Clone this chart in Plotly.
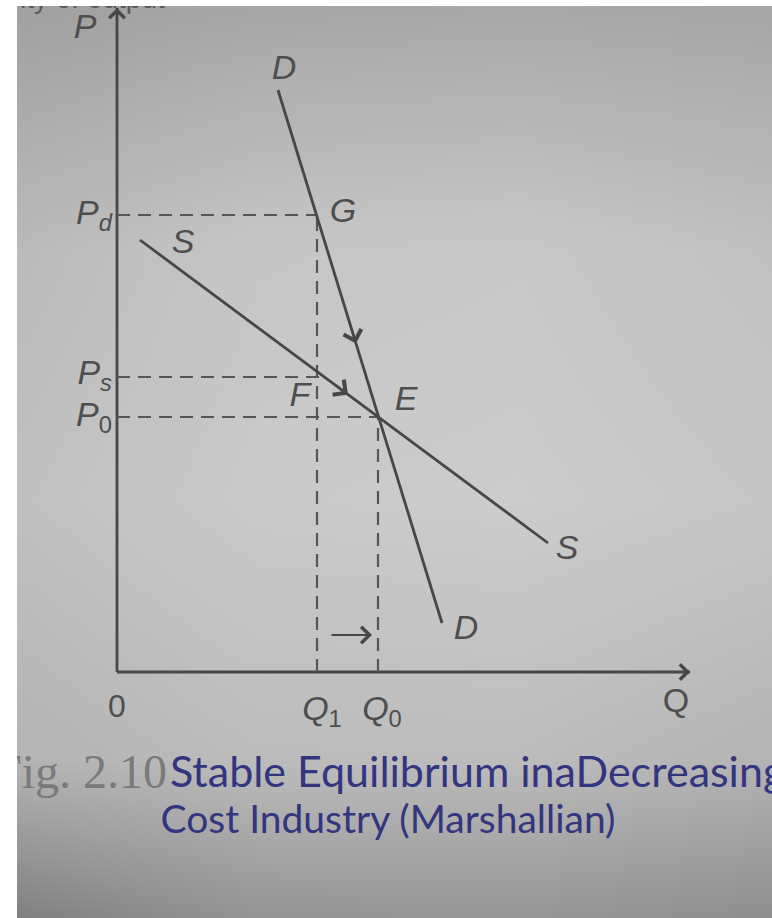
import plotly.graph_objects as go

# ---- Market model (Q = quantity, P = price) ----
Q1, Q0 = 20.0, 26.1          # quantities
P_D, P_S, P_0 = 45.7, 29.5, 25.5   # demand price, supply price, equilibrium price

demand_q = [16.1, 32.5]      # DD curve end points
demand_p = [58.2, 4.9]
supply_q = [2.3, 43.1]       # SS curve end points (downward sloping supply)
supply_p = [43.2, 12.9]

q_axis_end = 57.3
p_axis_end = 66.4

# background paper tone (grey levels)
bg_q = [-10.0, 14.3, 40.3, 65.5]
bg_p = [-24.6, -8.8, 17.2, 42.2, 66.6]
bg_z = [
    [128, 148, 150, 142],
    [180, 188, 188, 180],
    [192, 202, 204, 198],
    [186, 198, 200, 192],
    [160, 166, 168, 166],
]

INK = "#474747"
DASH = "#565656"
FONT = "Liberation Sans"

fig = go.Figure()

fig.add_trace(go.Heatmap(
    x=bg_q, y=bg_p, z=bg_z, zsmooth="best", zmin=0, zmax=255,
    colorscale=[[0, "rgb(0,0,0)"], [1, "rgb(255,255,255)"]],
    showscale=False, hoverinfo="skip"))


def line(xs, ys, color=INK, width=2.8, dash=None):
    fig.add_trace(go.Scatter(
        x=xs, y=ys, mode="lines", hoverinfo="skip", showlegend=False,
        line=dict(color=color, width=width, dash=dash)))


def label(x, y, txt, size=34, color="#4e4e4e", pos="middle center", family=FONT):
    fig.add_trace(go.Scatter(
        x=[x], y=[y], mode="text", text=[txt], textposition=pos,
        hoverinfo="skip", showlegend=False, cliponaxis=False,
        textfont=dict(family=family, size=size, color=color)))


# axes
line([0, 0], [0, p_axis_end])
line([0, q_axis_end], [0, 0])

# dashed guides
dash = "13px,8px"
line([0, Q1], [P_D, P_D], DASH, 2.2, dash)
line([0, Q1 + 0.6], [P_S, P_S], DASH, 2.2, dash)
line([0, Q0], [P_0, P_0], DASH, 2.2, dash)
line([Q1, Q1], [0, P_D], DASH, 2.2, dash)
line([Q0, Q0], [0, P_0], DASH, 2.2, dash)

# demand and supply curves
line(demand_q, demand_p)
line(supply_q, supply_p)


def at(qs, ps, q):
    return ps[0] + (ps[1] - ps[0]) * (q - qs[0]) / (qs[1] - qs[0])


arrows = [
    # axis heads
    (0, p_axis_end, 0, p_axis_end - 3, 1.5),
    (q_axis_end, 0, q_axis_end - 3, 0, 1.5),
    # movement along the curves
    (23.9, at(demand_q, demand_p, 23.9), 23.0, at(demand_q, demand_p, 23.0), 1.8),
    (23.1, at(supply_q, supply_p, 23.1), 21.6, at(supply_q, supply_p, 21.6), 1.8),
    # output expansion Q1 -> Q0
    (25.5, 3.7, 21.3, 3.7, 1.6),
]
for x, y, ax, ay, size in arrows:
    fig.add_annotation(x=x, y=y, ax=ax, ay=ay, xref="x", yref="y",
                       axref="x", ayref="y", text="", showarrow=True,
                       arrowhead=4, arrowsize=size, arrowwidth=2,
                       arrowcolor=INK, font=dict(size=12))

# curve and point labels
label(-3.2, 64.3, "<i>P</i>")
label(16.7, 60.2, "<i>D</i>")
label(22.6, 45.9, "<i>G</i>")
label(6.6, 42.8, "<i>S</i>")
label(18.3, 27.5, "<i>F</i>")
label(28.9, 27.1, "<i>E</i>")
label(45.0, 12.2, "<i>S</i>")
label(34.9, 4.2, "<i>D</i>")

# price labels on the vertical axis
label(-0.5, P_D, "<i>P</i><sub><i>d</i></sub>", pos="middle left")
label(-0.5, P_S + 0.2, "<i>P</i><sub><i>s</i></sub>", pos="middle left")
label(-0.5, P_0, "<i>P</i><sub>0</sub>", pos="middle left")

# quantity labels on the horizontal axis
label(0.0, -3.7, "0", 32)
label(20.5, -3.9, "<i>Q</i><sub>1</sub>", 34)
label(26.5, -3.9, "<i>Q</i><sub>0</sub>", 34)
label(55.9, -3.1, "Q", 34)

# running header of the page
label(-9.7, 67.1, "ity of output", 28, color="#5a5a5a", pos="middle right")

# caption
label(5.0, -10.4, "Fig. 2.10", 48, color="#7a7a7a", pos="middle left",
      family="Liberation Serif")
label(5.3, -10.4, "Stable Equilibrium inaDecreasing", 43, color="#33357e",
      pos="middle right", family="Lato")
label(27.1, -15.1, "Cost Industry (Marshallian)", 39, color="#33357e",
      family="Lato")

fig.update_layout(
    width=772, height=918, margin=dict(l=0, r=0, t=0, b=0),
    paper_bgcolor="white", plot_bgcolor="#c4c4c4", showlegend=False,
    xaxis=dict(range=[-11.7, 65.5], visible=False, fixedrange=True),
    yaxis=dict(range=[-24.6, 67.2], visible=False, fixedrange=True),
    shapes=[
        dict(type="rect", xref="paper", yref="paper", x0=0, x1=17 / 772,
             y0=0, y1=1, fillcolor="white", line=dict(width=0), layer="above"),
        dict(type="rect", xref="paper", yref="paper", x0=0, x1=1,
             y0=1 - 6 / 918, y1=1, fillcolor="white", line=dict(width=0),
             layer="above"),
    ],
)

fig.write_html("out.html")
